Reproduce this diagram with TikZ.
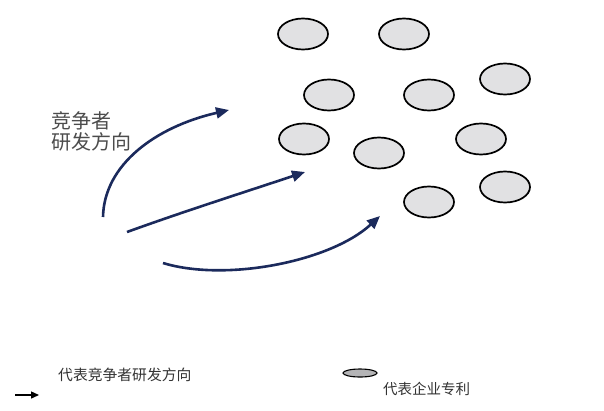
\documentclass[tikz,border=0pt]{standalone}
\usepackage{fontspec}
\newfontfamily\cjk{Noto Sans CJK SC}
\usetikzlibrary{arrows.meta,shapes.geometric}
\definecolor{navy}{HTML}{1B2A5C}
\definecolor{patfill}{HTML}{E1E1E3}
\tikzset{
  patent/.style={draw=black,line width=1.7pt,fill=patfill,ellipse,minimum width=50pt,minimum height=31pt,inner sep=0pt},
  dirarrow/.style={draw=navy,line width=2.6pt,-{Triangle[length=13pt,width=11pt]}},
  lbl/.style={font=\cjk,text=black!70,inner sep=0pt,anchor=west}
}
\begin{document}
\begin{tikzpicture}[x=1pt,y=-1pt]
\useasboundingbox (0,0) rectangle (604,410);
\fill[white] (0,0) rectangle (604,410);
% patents
\node[patent] (p1) at (303,34) {};
\node[patent] (p2) at (404,34) {};
\node[patent] (p3) at (329,95) {};
\node[patent] (p4) at (429,95) {};
\node[patent] (p5) at (505,79) {};
\node[patent] (p6) at (304,139) {};
\node[patent] (p7) at (379,153) {};
\node[patent] (p8) at (481,139) {};
\node[patent] (p9) at (505,187) {};
\node[patent] (p10) at (429,202) {};
% arrows
\coordinate (a1s) at (103,217);
\coordinate (a1e) at (229,110);
\coordinate (a2s) at (127,232);
\coordinate (a2e) at (305,172);
\coordinate (a3s) at (163,263);
\coordinate (a3e) at (380,216);
\draw[dirarrow] (a1s) .. controls (104,165) and (155,127) .. (a1e);
\draw[dirarrow] (a2s) .. controls (185,211) and (245,192) .. (a2e);
\draw[dirarrow] (a3s) .. controls (225,282) and (330,262) .. (a3e);
% label
\node[lbl,font=\cjk\fontsize{20}{21}\selectfont,align=left,anchor=north west] (lab) at (51,111) {竞争者\\研发方向};
% legend
\coordinate (la1) at (15,395);
\coordinate (la2) at (39,395);
\draw[black,line width=1.4pt,-{Triangle[length=8pt,width=7pt]}] (la1) -- (la2);
\node[lbl,font=\cjk\fontsize{14.8}{16}\selectfont,text=black!80] (leg1) at (58,375) {代表竞争者研发方向};
\node[draw=black,line width=1.1pt,fill=patfill!80!black,ellipse,minimum width=34pt,minimum height=8pt,inner sep=0pt] (legp) at (360,373) {};
\node[lbl,font=\cjk\fontsize{14.5}{16}\selectfont,text=black!80] (leg2) at (383,389) {代表企业专利};
\end{tikzpicture}
\end{document}
